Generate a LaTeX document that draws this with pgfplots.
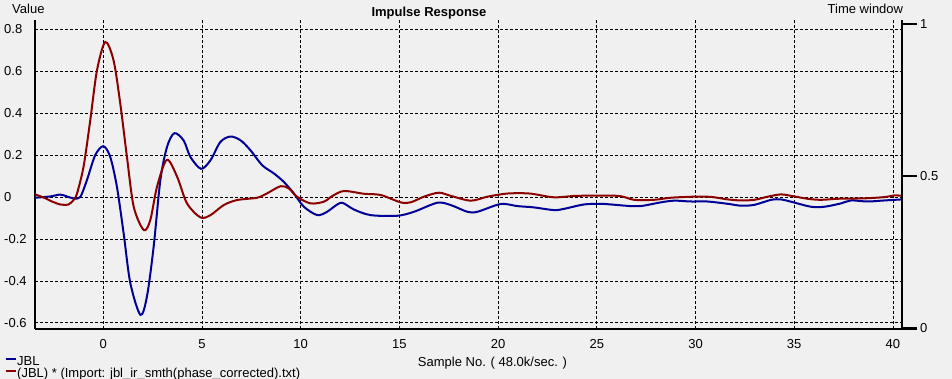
\documentclass[border=0pt]{standalone}
\usepackage{pgfplots}
\pgfplotsset{compat=1.18}
\usepackage{fontspec}
\setmainfont{Liberation Sans}
\definecolor{bgc}{HTML}{F0F0F0}
\definecolor{jblblue}{RGB}{0,0,150}
\definecolor{jblred}{RGB}{140,0,0}
\newcommand{\lbl}{\fontsize{13bp}{15bp}\selectfont}
\begin{document}
\begin{tikzpicture}
\fill[bgc] (-35bp,-50.5bp) rectangle (917bp,328.5bp);
\begin{axis}[
  name=main,
  at={(0bp,0bp)}, anchor=south west,
  scale only axis, width=867bp, height=308.5bp,
  xmin=-3.46, xmax=40.46, ymin=-0.627, ymax=0.845,
  axis x line*=bottom, axis y line*=left,
  axis line style={-, line width=2bp, black},
  xtick={0,5,10,15,20,25,30,35,40},
  xticklabels={0,5,10,15,20,25,30,35,40},
  ytick={-0.6,-0.4,-0.2,0,0.2,0.4,0.6,0.8},
  yticklabels={-0.6,-0.4,-0.2,0,0.2,0.4,0.6,0.8},
  xtick style={draw=none}, ytick style={draw=none},
  xticklabel style={anchor=base, inner sep=0pt, yshift=-19.5bp, font=\lbl},
  yticklabel style={anchor=west, inner sep=0pt, xshift=-31bp, font=\lbl},
  grid=major,
  major grid style={black, line width=0.8bp, dash pattern=on 3bp off 2bp},
  legend style={at={(-0.0346,-0.0891)}, anchor=north west, draw=none, fill=none,
    inner sep=0pt, row sep=0pt, font=\lbl,
    nodes={inner sep=0pt, text height=9bp, text depth=3bp}},
  legend cell align=left,
  legend image code/.code={\draw[#1, line width=2bp] (0bp,3.5bp) -- (10bp,3.5bp);},
  every axis plot/.append style={line width=2bp},
]
\addplot[jblblue, smooth, tension=0.5] coordinates {
(-3.46,-0.003) (-2.69,0.003) (-2.18,0.012) (-1.84,0.003) (-1.5,-0.006) (-1.17,0.0)
(-0.83,0.081) (-0.41,0.2) (0.0,0.243) (0.35,0.192) (0.69,0.049) (1.03,-0.173)
(1.37,-0.411) (1.88,-0.562) (2.21,-0.475) (2.55,-0.237) (2.89,0.081) (3.23,0.24)
(3.6,0.305) (4.07,0.27) (4.41,0.192) (4.95,0.135) (5.43,0.176) (5.93,0.263)
(6.44,0.289) (6.95,0.271) (7.45,0.224) (8.05,0.152) (8.64,0.113) (9.14,0.073)
(9.65,0.018) (10.16,-0.046) (10.84,-0.086) (11.34,-0.07) (11.7,-0.045) (12.1,-0.027)
(12.69,-0.059) (13.54,-0.086) (14.89,-0.089) (15.74,-0.07) (16.92,-0.027) (17.6,-0.038)
(18.44,-0.07) (18.95,-0.07) (20.13,-0.033) (20.98,-0.043) (21.8,-0.049) (22.83,-0.062)
(23.34,-0.056) (24.36,-0.035) (25.2,-0.032) (25.7,-0.035) (26.72,-0.043) (27.23,-0.043)
(28.25,-0.025) (28.92,-0.017) (29.76,-0.021) (30.6,-0.021) (31.63,-0.032) (32.3,-0.041)
(32.98,-0.037) (33.83,-0.013) (34.33,-0.011) (34.84,-0.022) (35.85,-0.046) (36.53,-0.046)
(37.37,-0.03) (37.88,-0.016) (38.72,-0.021) (39.57,-0.016) (40.46,-0.011)
};
\addlegendentry{JBL}
\addplot[jblred, smooth, tension=0.5] coordinates {
(-3.46,0.013) (-3.02,-0.002) (-2.6,-0.021) (-2.18,-0.035) (-1.76,-0.035) (-1.5,-0.013)
(-1.33,0.018) (-1.0,0.145) (-0.66,0.367) (-0.32,0.605) (0.1,0.74) (0.52,0.652)
(0.86,0.446) (1.2,0.19) (1.54,-0.046) (2.05,-0.157) (2.38,-0.11) (2.72,0.049)
(3.22,0.178) (3.74,0.097) (4.24,-0.03) (4.92,-0.097) (5.43,-0.086) (6.1,-0.038)
(6.78,-0.014) (7.79,-0.003) (8.3,0.018) (8.98,0.052) (9.4,0.041) (9.82,0.001)
(10.5,-0.03) (11.17,-0.022) (11.6,0.005) (12.19,0.029) (13.2,0.016) (14.05,0.01)
(15.06,-0.025) (15.57,-0.025) (16.24,0.002) (17.0,0.021) (17.6,0.006) (18.61,-0.017)
(19.46,0.002) (20.47,0.017) (21.6,0.017) (22.83,-0.001) (24.0,0.006) (26.05,0.006)
(26.89,-0.013) (27.9,-0.013) (28.75,-0.003) (29.94,0.002) (30.78,0.001) (31.63,-0.011)
(32.3,-0.016) (32.98,-0.013) (33.66,0.002) (34.33,0.013) (34.84,0.006) (35.68,-0.008)
(36.36,-0.013) (37.2,-0.008) (38.55,-0.006) (39.57,0.0) (40.07,0.008) (40.46,0.006)
};
\addlegendentry{(JBL) * (Import: jbl\_ir\_smth(phase\_corrected).txt)}
\end{axis}
\begin{axis}[
  at={(0bp,0bp)}, anchor=south west,
  scale only axis, width=867bp, height=308.5bp,
  xmin=-3.46, xmax=40.46, ymin=0, ymax=1.0143,
  axis x line=none, axis y line*=right,
  axis line style={-, line width=2bp, black},
  ytick={0,0.5,1}, yticklabels={0,0.5,1},
  tick align=outside, major tick length=15bp,
  ytick style={line width=2bp, black},
  yticklabel style={anchor=west, inner sep=0pt, xshift=3bp, font=\lbl},
]
\end{axis}
\node[anchor=base west, inner sep=0pt, font=\lbl] at (-23bp,315.2bp) {Value};
\node[anchor=base, inner sep=0pt, font=\lbl\bfseries] at (394bp,311.5bp) {Impulse Response};
\node[anchor=base east, inner sep=0pt, font=\lbl] at (868.3bp,315.2bp) {Time window};
\node[anchor=base, inner sep=0pt, font=\lbl] at (457.5bp,-37.5bp) {Sample No. ( 48.0k/sec. )};
\pgfresetboundingbox
\useasboundingbox (-35bp,-50.5bp) rectangle (917bp,328.5bp);
\end{tikzpicture}
\end{document}
